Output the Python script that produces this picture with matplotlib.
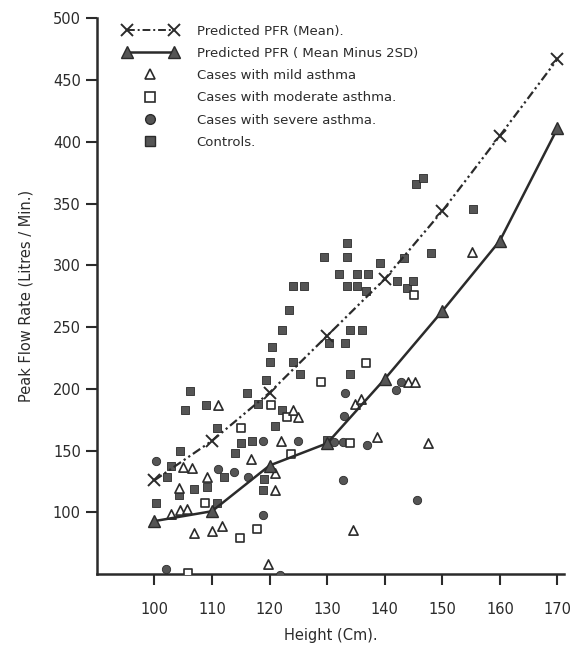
import matplotlib.pyplot as plt
from matplotlib.lines import Line2D

# === Data ===

heights_line = [100, 110, 120, 130, 140, 150, 160, 170]
pfr_mean = [126, 158, 197, 243, 289, 344, 405, 467]
pfr_minus_2sd = [93, 101, 138, 156, 208, 263, 320, 411]

mild_x = [111.1, 124.0, 125.0, 122.0, 116.8, 121.0, 120.9, 105.0, 106.5, 109.1, 104.2,
          102.8, 104.5, 105.7, 106.8, 110.0, 111.8, 119.7, 134.8, 135.8, 138.7, 147.5,
          144.0, 145.2, 155.1, 134.5]
mild_y = [187, 183, 177, 158, 143, 132, 118, 137, 136, 129, 120,
          99, 102, 103, 83, 85, 89, 58, 188, 192, 161, 156,
          206, 206, 311, 86]

moderate_x = [115.0, 117.8, 114.8, 108.8, 105.8, 120.2, 123.1, 123.8, 128.9, 136.8, 134.0, 145.0]
moderate_y = [168, 87, 79, 108, 51, 187, 177, 147, 206, 221, 156, 276]

severe_x = [100.2, 111.1, 113.9, 116.2, 118.8, 118.8, 102.0, 121.8, 125.0, 133.1, 133.0,
            131.2, 132.7, 137.0, 132.8, 145.6, 141.9, 142.8]
severe_y = [142, 135, 133, 129, 158, 98, 54, 49, 158, 197, 178,
            157, 157, 155, 126, 110, 199, 206]

control_x = [100.2, 102.2, 102.8, 104.5, 105.3, 106.2, 104.2, 106.9, 109.0, 109.1, 110.8,
             110.8, 112.0, 114.0, 115.0, 116.0, 117.0, 118.0, 118.9, 119.0, 119.3, 120.0,
             120.5, 121.0, 122.2, 122.2, 123.4, 124.0, 126.0, 124.1, 125.3, 129.5, 130.3,
             130.0, 133.1, 133.4, 133.4, 132.0, 135.1, 137.1, 133.4, 135.1, 136.8, 134.0,
             136.1, 134.0, 139.2, 143.3, 142.1, 143.9, 144.9, 145.4, 146.6, 148.1, 155.4]
control_y = [108, 129, 138, 150, 183, 198, 114, 119, 187, 121, 168,
             108, 129, 148, 156, 197, 158, 188, 118, 127, 207, 222,
             234, 170, 183, 248, 264, 283, 283, 222, 212, 307, 237,
             159, 237, 318, 307, 293, 293, 293, 283, 283, 279, 248,
             248, 212, 302, 306, 287, 282, 287, 366, 371, 310, 346]

x_ticks = [100, 110, 120, 130, 140, 150, 160, 170]
y_ticks = [100, 150, 200, 250, 300, 350, 400, 450, 500]

ink = "#2b2b2b"
fill = "#555555"

# === Figure ===

fig = plt.figure(figsize=(5.73, 6.54), dpi=100)
ax = fig.add_axes([0.169, 0.122, 0.816, 0.85])

ax.scatter(control_x, control_y, marker="s", s=40, color=fill, edgecolors=ink, linewidths=0.6, zorder=3)
ax.scatter(severe_x, severe_y, marker="o", s=36, color=fill, edgecolors=ink, linewidths=0.6, zorder=3)
ax.scatter(moderate_x, moderate_y, marker="s", s=38, facecolors="white", edgecolors=ink, linewidths=1.2, zorder=3)
ax.scatter(mild_x, mild_y, marker="^", s=44, facecolors="white", edgecolors=ink, linewidths=1.2, zorder=3)

ax.plot(heights_line, pfr_mean, color=ink, lw=1.6, linestyle=(0, (4, 1.5, 1, 1.5, 1, 1.5)),
        marker="x", ms=8, mew=1.4, zorder=4)
ax.plot(heights_line, pfr_minus_2sd, color=ink, lw=1.8, marker="^", ms=8,
        markerfacecolor=fill, markeredgecolor=ink, zorder=4)

ax.set_xlim(90, 171.2)
ax.set_ylim(50, 500)
ax.set_xticks(x_ticks)
ax.set_yticks(y_ticks)
ax.tick_params(direction="out", length=8, width=1.5, color=ink, labelcolor=ink, labelsize=10.5)
ax.tick_params(axis="x", pad=12)

for side in ["top", "right"]:
    ax.spines[side].set_visible(False)
for side in ["left", "bottom"]:
    ax.spines[side].set_linewidth(1.8)
    ax.spines[side].set_color(ink)

ax.set_xlabel("Height (Cm).", fontsize=10.5, color=ink, labelpad=8)
ax.set_ylabel("Peak Flow Rate (Litres / Min.)", fontsize=10.5, color=ink, labelpad=14)

# === Legend ===

handles = [
    Line2D([], [], color=ink, lw=1.4, linestyle=(0, (4, 1.5, 1, 1.5)), marker="x", ms=8, mew=1.4),
    Line2D([], [], color=ink, lw=1.8, marker="^", ms=8, markerfacecolor=fill, markeredgecolor=ink),
    Line2D([], [], ls="none", marker="^", ms=7, markerfacecolor="white", markeredgecolor=ink, mew=1.2),
    Line2D([], [], ls="none", marker="s", ms=7, markerfacecolor="white", markeredgecolor=ink, mew=1.2),
    Line2D([], [], ls="none", marker="o", ms=7, markerfacecolor=fill, markeredgecolor=ink),
    Line2D([], [], ls="none", marker="s", ms=7, markerfacecolor=fill, markeredgecolor=ink),
]
labels = [
    "Predicted PFR (Mean).",
    "Predicted PFR ( Mean Minus 2SD)",
    "Cases with mild asthma",
    "Cases with moderate asthma.",
    "Cases with severe asthma.",
    "Controls.",
]
leg = ax.legend(handles, labels, loc="upper left", bbox_to_anchor=(0.03, 1.01), frameon=False,
                fontsize=9.5, handlelength=4.2, labelspacing=0.7, handletextpad=1.4,
                markerfirst=True, numpoints=2)
for h in leg.legend_handles[2:]:
    h.set_data([0.5 * (h.get_xdata()[0] + h.get_xdata()[-1])], [h.get_ydata()[0]])
for t in leg.get_texts():
    t.set_color(ink)

fig.savefig("out.png", dpi=100)
